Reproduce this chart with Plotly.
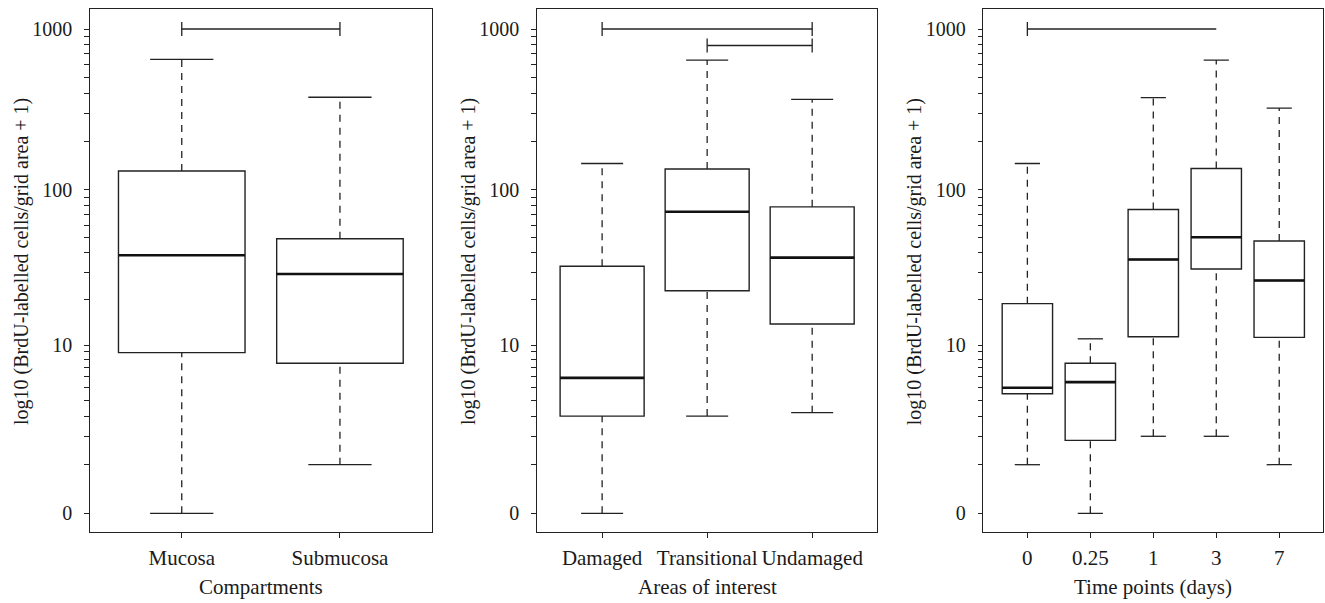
import numpy as np
import plotly.graph_objects as go

# ---------------- data (cell counts per grid area) ----------------
comp_labels = ["Mucosa", "Submucosa"]
comp_lower = [0, 1.0]
comp_q1 = [8.9, 7.5]
comp_median = [38.7, 29.4]
comp_q3 = [131, 49.2]
comp_upper = [648, 377]

area_labels = ["Damaged", "Transitional", "Undamaged"]
area_lower = [0, 3.0, 3.2]
area_q1 = [3.0, 22.9, 13.9]
area_median = [5.9, 72.8, 37.4]
area_q3 = [32.9, 135, 78.2]
area_upper = [146, 642, 366]

time_labels = ["0", "0.25", "1", "3", "7"]
time_lower = [1.0, 0, 2.0, 2.0, 1.0]
time_q1 = [4.5, 1.83, 11.4, 31.6, 11.3]
time_median = [5.0, 5.5, 36.4, 50.3, 26.7]
time_q3 = [18.9, 7.5, 75.2, 135.8, 47.6]
time_upper = [146, 11.05, 375, 642, 323]

# significance brackets: (from group, to group, level, tick at left end, tick at right end)
comp_sig = [(1, 2, 1000, True, True)]
area_sig = [(1, 3, 1000, True, True), (2, 3, 790, True, True)]
time_sig = [(1, 4, 1000, True, False)]

axis_titles = ["Compartments", "Areas of interest", "Time points (days)"]
y_title = "log10 (BrdU-labelled cells/grid area + 1)"
major_ticks = [0, 10, 100, 1000]
major_labels = ["0", "10", "100", "1000"]
minor_ticks = [1, 2, 3, 4, 5, 6, 7, 8, 9, 20, 30, 40, 50, 60, 70, 80, 90,
               200, 300, 400, 500, 600, 700, 800, 900]


def f(v):
    return np.log10(np.asarray(v, dtype=float) + 1.0)


# ---------------- style ----------------
W, H = 1325, 603
LC = "#222222"
TXT = "#1a1a1a"
FONT = "Liberation Serif"
FS = 20
FSX = 21
BOXW = 0.8
frames = [(90.0, 431.7), (537.0, 877.3), (983.3, 1323.3)]
top_px, bot_px = 9.3, 532.3
yrange = [-0.1177, 3.1225]
bracket_half = 0.043

panels = [
    (comp_labels, comp_lower, comp_q1, comp_median, comp_q3, comp_upper, comp_sig),
    (area_labels, area_lower, area_q1, area_median, area_q3, area_upper, area_sig),
    (time_labels, time_lower, time_q1, time_median, time_q3, time_upper, time_sig),
]

fig = go.Figure()
annotations = []

for k, (labels, lo, q1, med, q3, up, sig) in enumerate(panels, start=1):
    n = len(labels)
    xs = np.arange(1, n + 1)
    xa = "x" if k == 1 else f"x{k}"
    ya = "y" if k == 1 else f"y{k}"

    # boxes (body only)
    fig.add_trace(go.Box(
        x=xs, q1=f(q1), median=f(med), q3=f(q3),
        lowerfence=f(q1), upperfence=f(q3),
        width=BOXW, whiskerwidth=0, boxpoints=False,
        fillcolor="white", line=dict(color=LC, width=1.4),
        xaxis=xa, yaxis=ya, showlegend=False, hoverinfo="skip"))

    # dashed whiskers
    wx, wy = [], []
    for i in range(n):
        wx += [xs[i], xs[i], None, xs[i], xs[i], None]
        wy += [f(q3[i]), f(up[i]), None, f(lo[i]), f(q1[i]), None]
    fig.add_trace(go.Scatter(x=wx, y=wy, mode="lines",
                             line=dict(color=LC, width=1.3, dash="7px,6px"),
                             xaxis=xa, yaxis=ya, showlegend=False, hoverinfo="skip"))

    # whisker caps
    cx, cy = [], []
    for i in range(n):
        for v in (lo[i], up[i]):
            cx += [xs[i] - BOXW / 4, xs[i] + BOXW / 4, None]
            cy += [f(v), f(v), None]
    fig.add_trace(go.Scatter(x=cx, y=cy, mode="lines",
                             line=dict(color=LC, width=1.3),
                             xaxis=xa, yaxis=ya, showlegend=False, hoverinfo="skip"))

    # thick medians
    mx, my = [], []
    for i in range(n):
        mx += [xs[i] - BOXW / 2, xs[i] + BOXW / 2, None]
        my += [f(med[i]), f(med[i]), None]
    fig.add_trace(go.Scatter(x=mx, y=my, mode="lines",
                             line=dict(color="#111111", width=2.6),
                             xaxis=xa, yaxis=ya, showlegend=False, hoverinfo="skip"))

    # significance brackets
    bx, by = [], []
    for (a, b, lvl, tl, tr) in sig:
        yl = float(f(lvl))
        bx += [a, b, None]
        by += [yl, yl, None]
        if tl:
            bx += [a, a, None]
            by += [yl - bracket_half, yl + bracket_half, None]
        if tr:
            bx += [b, b, None]
            by += [yl - bracket_half, yl + bracket_half, None]
    fig.add_trace(go.Scatter(x=bx, y=by, mode="lines",
                             line=dict(color=LC, width=1.3),
                             xaxis=xa, yaxis=ya, showlegend=False, hoverinfo="skip"))

    x0p, x1p = frames[k - 1]
    pad = 0.04 * n
    axis_common = dict(showline=True, mirror=True, linecolor=LC, linewidth=1.3,
                       showgrid=False, zeroline=False, ticks="outside",
                       tickcolor=LC, tickwidth=1.2)
    fig.update_layout(**{
        ("xaxis" if k == 1 else f"xaxis{k}"): dict(
            domain=[x0p / W, x1p / W], range=[0.5 - pad, n + 0.5 + pad],
            tickmode="array", tickvals=list(xs), ticktext=labels,
            ticklen=5, ticklabelstandoff=1, anchor=ya,
            tickfont=dict(family=FONT, size=FSX, color=TXT), **axis_common),
        ("yaxis" if k == 1 else f"yaxis{k}"): dict(
            domain=[1 - bot_px / H, 1 - top_px / H], range=yrange,
            tickmode="array", tickvals=list(f(major_ticks)), ticktext=major_labels,
            ticklen=4.5, ticklabelstandoff=8, anchor=xa,
            tickfont=dict(family=FONT, size=FS, color=TXT),
            minor=dict(tickmode="array", tickvals=list(f(minor_ticks)),
                       ticks="outside", ticklen=4.5, tickcolor=LC, tickwidth=1.2,
                       showgrid=False),
            **axis_common),
    })

    annotations.append(dict(text=axis_titles[k - 1], xref="paper", yref="paper",
                            x=(x0p + x1p) / 2 / W, y=1 - 586.7 / H,
                            xanchor="center", yanchor="middle", showarrow=False,
                            font=dict(family=FONT, size=FSX, color=TXT)))
    annotations.append(dict(text=y_title, xref="paper", yref="paper",
                            x=(x0p - 69) / W, y=1 - 262 / H,
                            xanchor="center", yanchor="middle", textangle=-90,
                            showarrow=False,
                            font=dict(family=FONT, size=FS, color=TXT)))

fig.update_layout(width=W, height=H, margin=dict(l=0, r=0, t=0, b=0),
                  paper_bgcolor="white", plot_bgcolor="white",
                  annotations=annotations, showlegend=False)

fig.write_html("out.html", config={"displayModeBar": False},
               post_script="document.body.style.margin='0';document.body.style.overflow='hidden';")
